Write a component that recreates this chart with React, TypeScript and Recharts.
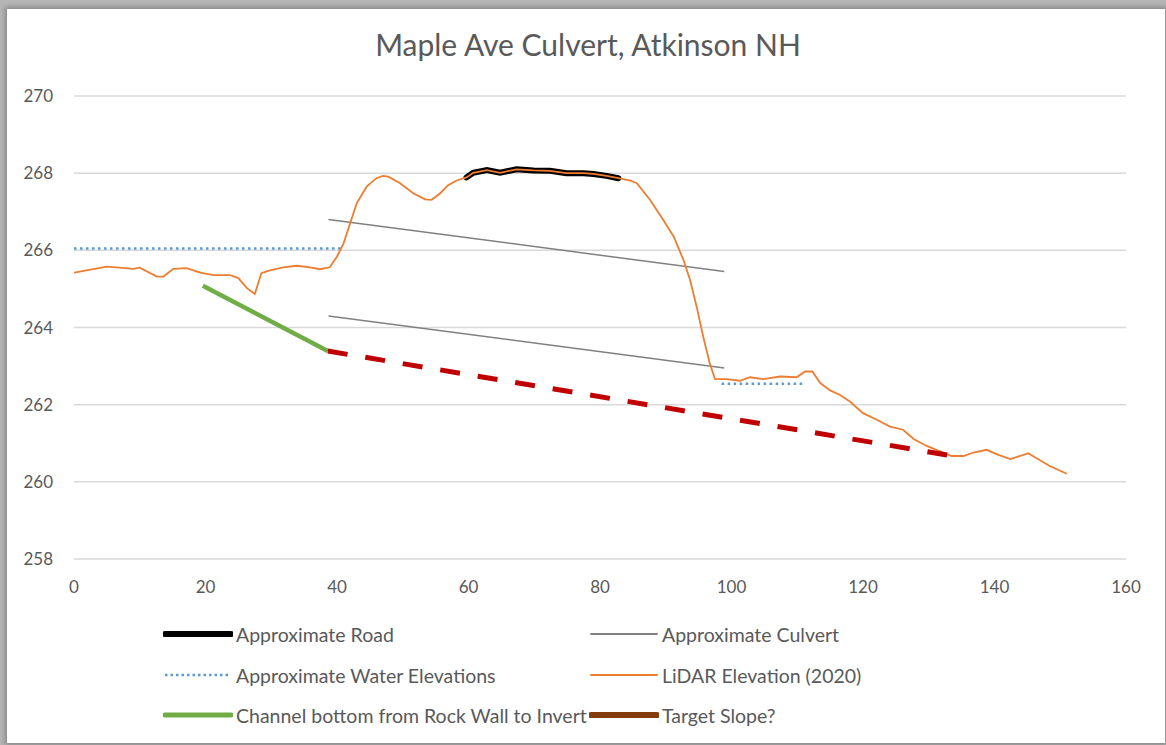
import React from "react";
import { LineChart, Line, XAxis, YAxis, CartesianGrid, Legend } from "recharts";

const lidarStation = [0, 5, 9, 10, 12.6, 13.6, 15.1, 17.1, 19.2, 21.2, 23.7, 25, 26.3, 27.5, 28.5, 29.8, 31.8, 33.9, 35.9, 37.4, 38.9, 40, 41, 42, 43, 44.5, 46, 47, 47.8, 49.6, 51.6, 53.4, 54.4, 55.7, 56.9, 58.2, 59.7, 60.7, 62.8, 64.8, 67.3, 69.9, 72.4, 74.9, 77.5, 79, 81, 82.8, 84.6, 85.6, 87.6, 89.6, 91.2, 92.7, 93.7, 94.7, 95.7, 96.7, 97.5, 99.3, 101.3, 102.8, 104.8, 107.4, 109.9, 111.2, 112.3, 113.5, 115, 116.5, 118, 120, 122.1, 124.1, 126.1, 127.7, 129.7, 131.7, 133.5, 135.3, 136.8, 138.8, 140.6, 142.4, 143.9, 145.1, 146.4, 148.4, 151];
const lidarElevation = [265.42, 265.58, 265.52, 265.55, 265.32, 265.32, 265.52, 265.54, 265.42, 265.36, 265.36, 265.28, 265.02, 264.87, 265.41, 265.48, 265.56, 265.6, 265.56, 265.51, 265.56, 265.84, 266.18, 266.7, 267.22, 267.65, 267.87, 267.93, 267.91, 267.74, 267.48, 267.32, 267.31, 267.48, 267.69, 267.81, 267.89, 268.01, 268.08, 268.01, 268.1, 268.07, 268.06, 268.0, 268.0, 267.98, 267.93, 267.87, 267.81, 267.74, 267.31, 266.79, 266.36, 265.75, 265.23, 264.54, 263.76, 263.07, 262.66, 262.66, 262.62, 262.71, 262.66, 262.73, 262.71, 262.86, 262.86, 262.56, 262.37, 262.25, 262.08, 261.78, 261.61, 261.43, 261.35, 261.11, 260.93, 260.79, 260.67, 260.67, 260.76, 260.83, 260.7, 260.59, 260.67, 260.74, 260.61, 260.41, 260.21];

const roadStation = [59.7, 60.7, 62.8, 64.8, 67.3, 69.9, 72.4, 74.9, 77.5, 79, 81, 82.8];
const roadElevation = [267.89, 268.01, 268.08, 268.01, 268.1, 268.07, 268.06, 268.0, 268.0, 267.98, 267.93, 267.87];

const culvertTopStation = [38.7, 98.9];
const culvertTopElevation = [266.8, 265.45];
const culvertBottomStation = [38.7, 98.9];
const culvertBottomElevation = [264.3, 262.95];

const waterUpStation = [0, 41];
const waterUpElevation = [266.05, 266.05];
const waterDownStation = [98.5, 111.2];
const waterDownElevation = [262.54, 262.54];

const channelStation = [19.6, 38.6];
const channelElevation = [265.08, 263.39];

const targetStation = [38.6, 133.7];
const targetElevation = [263.39, 260.67];

const xTicks = [0, 20, 40, 60, 80, 100, 120, 140, 160];
const yTicks = [258, 260, 262, 264, 266, 268, 270];

const legendLeft = ["Approximate Road", "Approximate Water Elevations", "Channel bottom from Rock Wall to Invert"];
const legendRight = ["Approximate Culvert", "LiDAR Elevation (2020)", "Target Slope?"];

const C_ROAD = "#000000";
const C_CULVERT = "#808080";
const C_WATER = "#5B9BD5";
const C_LIDAR = "#ED7D31";
const C_CHANNEL = "#70AD47";
const C_TARGET_LEGEND = "#843C0C";
const C_TARGET = "#C00000";
const TEXT = "#595959";
const FONT = "Lato, 'Open Sans', sans-serif";

const pairs = (xs: number[], ys: number[]) => xs.map((x, i) => ({ x, y: ys[i] }));

const lidarData = pairs(lidarStation, lidarElevation);
const roadData = pairs(roadStation, roadElevation);
const culvertTopData = pairs(culvertTopStation, culvertTopElevation);
const culvertBottomData = pairs(culvertBottomStation, culvertBottomElevation);
const waterUpData = pairs(waterUpStation, waterUpElevation);
const waterDownData = pairs(waterDownStation, waterDownElevation);
const channelData = pairs(channelStation, channelElevation);
const targetData = pairs(targetStation, targetElevation);

type Icon = { color: string; width: number; dash?: string };
const leftIcons: Icon[] = [
  { color: C_ROAD, width: 6 },
  { color: C_WATER, width: 2.5, dash: "2.5 3" },
  { color: C_CHANNEL, width: 5 },
];
const rightIcons: Icon[] = [
  { color: C_CULVERT, width: 1.8 },
  { color: C_LIDAR, width: 1.8 },
  { color: C_TARGET_LEGEND, width: 6 },
];

const rowTops = [22, 63, 103];

function LegendItem({ label, icon, x, y }: { label: string; icon: Icon; x: number; y: number }) {
  return (
    <div style={{ position: "absolute", left: x, top: y - 13, height: 26, display: "flex", alignItems: "center", whiteSpace: "nowrap" }}>
      <svg width={70} height={24} style={{ display: "block" }}>
        <line x1={2} y1={12} x2={68} y2={12} stroke={icon.color} strokeWidth={icon.width} strokeDasharray={icon.dash} strokeLinecap={icon.dash ? "butt" : "round"} />
      </svg>
      <span style={{ marginLeft: 3, fontFamily: FONT, fontSize: 19.5, color: TEXT }}>{label}</span>
    </div>
  );
}

function CustomLegend() {
  return (
    <div style={{ position: "relative", width: 1166, height: 140 }}>
      {legendLeft.map((l, i) => (
        <LegendItem key={"l" + i} label={l} icon={leftIcons[i]} x={163} y={rowTops[i]} />
      ))}
      {legendRight.map((l, i) => (
        <LegendItem key={"r" + i} label={l} icon={rightIcons[i]} x={589} y={rowTops[i]} />
      ))}
    </div>
  );
}

export default function App() {
  return (
    <div style={{ position: "absolute", left: 0, top: 0, width: 1166, height: 745, background: "#b5b5b5", overflow: "hidden" }}>
      <div style={{ position: "absolute", left: 7, top: 9, width: 1158, height: 734, background: "#ffffff", boxShadow: "0 0 5px 2px rgba(0,0,0,0.25)" }} />
      <div style={{ position: "absolute", left: 0, top: 0 }}>
        <LineChart width={1166} height={745} margin={{ top: 96, right: 40, bottom: 0, left: 0 }}>
          <CartesianGrid vertical={false} stroke="#d9d9d9" strokeWidth={1.5} />
          <XAxis
            type="number"
            dataKey="x"
            domain={[0, 160]}
            ticks={xTicks}
            allowDataOverflow
            axisLine={false}
            tickLine={false}
            tickSize={0}
            tickMargin={22}
            height={46}
            tick={{ fill: TEXT, fontSize: 17, fontFamily: FONT }}
          />
          <YAxis
            type="number"
            domain={[258, 270]}
            ticks={yTicks}
            allowDataOverflow
            axisLine={false}
            tickLine={false}
            tickSize={0}
            tickMargin={21}
            width={74}
            tick={{ fill: TEXT, fontSize: 17, fontFamily: FONT }}
          />
          <Legend
            verticalAlign="bottom"
            height={140}
            wrapperStyle={{ left: 0, top: 612, bottom: "auto", width: 1166 }}
            content={() => <CustomLegend />}
          />
          <Line data={roadData} dataKey="y" name="Approximate Road" stroke={C_ROAD} strokeWidth={6} dot={false} strokeLinecap="round" isAnimationActive={false} legendType="none" />
          <Line data={culvertTopData} dataKey="y" name="Approximate Culvert" stroke={C_CULVERT} strokeWidth={1.5} dot={false} isAnimationActive={false} />
          <Line data={culvertBottomData} dataKey="y" name="Approximate Culvert bottom" stroke={C_CULVERT} strokeWidth={1.5} dot={false} isAnimationActive={false} />
          <Line data={waterUpData} dataKey="y" name="Approximate Water Elevations" stroke={C_WATER} strokeWidth={2.5} strokeDasharray="2.5 3.5" dot={false} isAnimationActive={false} />
          <Line data={waterDownData} dataKey="y" name="Approximate Water Elevations downstream" stroke={C_WATER} strokeWidth={2.5} strokeDasharray="2.5 3.5" dot={false} isAnimationActive={false} />
          <Line data={lidarData} dataKey="y" name="LiDAR Elevation (2020)" stroke={C_LIDAR} strokeWidth={1.8} dot={false} isAnimationActive={false} />
          <Line data={channelData} dataKey="y" name="Channel bottom from Rock Wall to Invert" stroke={C_CHANNEL} strokeWidth={4.5} dot={false} isAnimationActive={false} />
          <Line data={targetData} dataKey="y" name="Target Slope?" stroke={C_TARGET} strokeWidth={5} strokeDasharray="20 18" dot={false} isAnimationActive={false} />
        </LineChart>
      </div>
      <div style={{ position: "absolute", left: 5, top: 26, width: 1166, textAlign: "center", fontFamily: FONT, fontSize: 30, color: TEXT }}>
        Maple Ave Culvert, Atkinson NH
      </div>
    </div>
  );
}
